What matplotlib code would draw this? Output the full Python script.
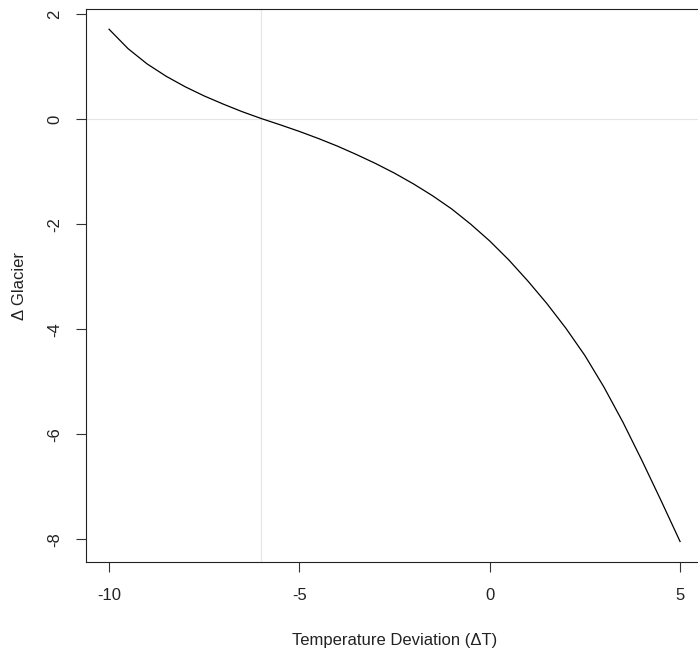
import numpy as np
import matplotlib
matplotlib.use('Agg')
import matplotlib.pyplot as plt

plt.rcParams['font.family'] = ['Liberation Sans', 'DejaVu Sans']

# temperature deviation vs glacier change
dT = [-10, -9.5, -9, -8.5, -8, -7.5, -7, -6.5, -6, -5.5, -5, -4.5, -4, -3.5,
      -3, -2.5, -2, -1.5, -1, -0.5, 0, 0.5, 1, 1.5, 2, 2.5, 3, 3.5, 4, 4.5, 5]
dGlacier = [1.71, 1.34, 1.05, 0.815, 0.615, 0.44, 0.285, 0.14, 0.01, -0.11,
            -0.235, -0.37, -0.515, -0.675, -0.845, -1.03, -1.235, -1.46, -1.71,
            -2.00, -2.32, -2.68, -3.08, -3.51, -3.98, -4.50, -5.10, -5.77,
            -6.50, -7.26, -8.04]
xticks = [-10, -5, 0, 5]
yticks = [2, 0, -2, -4, -6, -8]
vline_x = -6
hline_y = 0

fig = plt.figure(figsize=(6.98, 6.52), dpi=100)
ax = fig.add_axes([86.2 / 698, 1 - 562 / 652, 616.7 / 698, 553 / 652])

ax.axvline(vline_x, color='#e5e5e5', lw=0.8, zorder=1)
ax.axhline(hline_y, color='#e5e5e5', lw=0.8, zorder=1)
ax.plot(dT, dGlacier, color='black', lw=0.9, zorder=2)

ax.set_xlim(-10.6, 5.6)
ax.set_ylim(-8.43, 2.095)
ax.set_xticks(xticks)
ax.set_yticks(yticks)
ax.set_xticklabels([str(t) for t in xticks])
ax.set_yticklabels([str(t) for t in yticks], rotation=90, va='center')
ax.tick_params(direction='out', length=7, width=0.8, color='#333333',
               labelsize=12, labelcolor='#222222')
ax.tick_params(axis='x', pad=12)
ax.tick_params(axis='y', pad=10)
for s in ax.spines.values():
    s.set_linewidth(0.8)
    s.set_color('#222222')

fig.text(394.5 / 698, 1 - 640 / 652, 'Temperature Deviation (\u0394T)',
         ha='center', va='center', fontsize=12, color='#222222')
fig.text(20 / 698, 1 - 285.5 / 652, '\u0394 Glacier', rotation=90,
         ha='center', va='center', fontsize=12, color='#222222')

fig.savefig('out.png', dpi=100)
